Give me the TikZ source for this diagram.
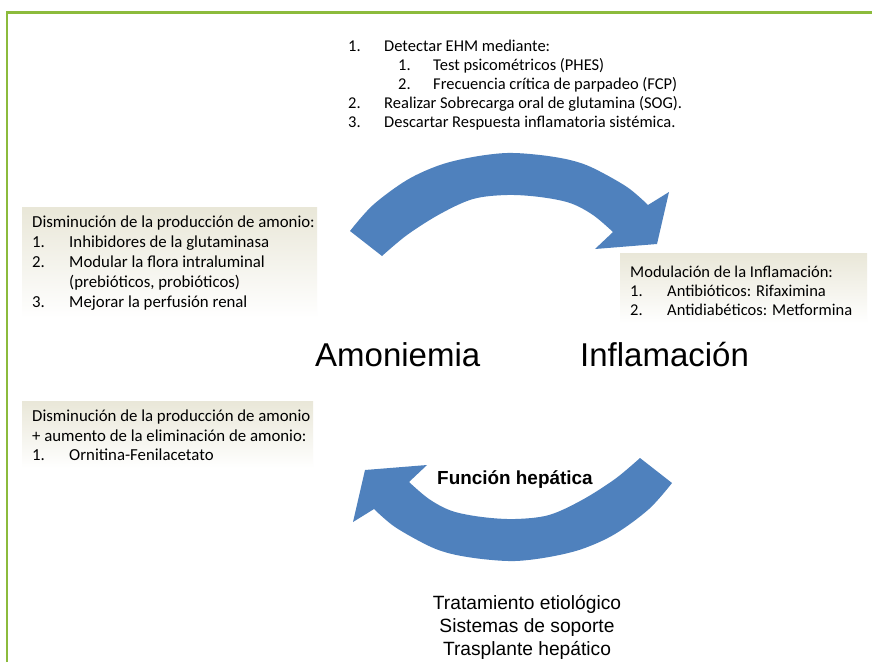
\documentclass[tikz,border=0pt]{standalone}
\usepackage{fontspec}
\setmainfont{Carlito}
\newfontfamily\arialf{Liberation Sans}
\definecolor{arrowblue}{RGB}{79,129,189}
\definecolor{framegreen}{RGB}{140,187,60}
\definecolor{boxbeige}{RGB}{233,231,216}
\begin{document}
\begin{tikzpicture}[x=1pt,y=-1pt,
  lt/.style={font=\fontsize{16.5}{19.5}\selectfont, anchor=base west, inner sep=0pt},
  lb/.style={font=\fontsize{16.8}{20}\selectfont, anchor=base west, inner sep=0pt},
  big/.style={font=\arialf\fontsize{33}{38}\selectfont, anchor=base west, inner sep=0pt},
  mid/.style={font=\arialf\fontsize{19.2}{22}\selectfont, anchor=base, inner sep=0pt},
  beige/.style={top color=boxbeige, bottom color=white, draw=none},
  cyc/.style={fill=arrowblue, draw=none}]
\useasboundingbox (0,0) rectangle (872,662);
\fill[white] (0,0) rectangle (872,662);
\draw[framegreen, line width=2.5pt] (6.8,662) -- (6.8,12.5) -- (872,12.5);

% beige boxes
\path[beige] (22,207) rectangle (317,318);
\path[beige] (620,253) rectangle (867,323);
\path[beige] (22,401) rectangle (313,468);

% circular arrows
\newcommand{\cyclearrow}{%
\path[cyc] plot[smooth, tension=0.55] coordinates {(350,231) (373,205) (407,180) (440,165) (473,157) (507,153) (540,155) (570,160) (593,168) (627,187) (648,205)}
  -- (669,192) -- (657,244) -- (595,249) --
  plot[smooth, tension=0.55] coordinates {(613,232) (593,215) (570,203) (540,197) (507,195) (473,199) (440,214) (407,235) (382,256)} -- cycle;}
\cyclearrow
\begin{scope}[rotate around={180:(511,357)}]
\cyclearrow
\end{scope}

% top list
\node[lt] (t1n) at (348,51) {1.};
\node[lt] (t1) at (384,51) {Detectar EHM mediante:};
\node[lt] (t11n) at (398,70) {1.};
\node[lt] (t11) at (433,70) {Test psicométricos (PHES)};
\node[lt] (t12n) at (398,89) {2.};
\node[lt] (t12) at (433,89) {Frecuencia crítica de parpadeo (FCP)};
\node[lt] (t2n) at (348,108) {2.};
\node[lt] (t2) at (384,108) {Realizar Sobrecarga oral de glutamina (SOG).};
\node[lt] (t3n) at (348,127) {3.};
\node[lt] (t3) at (384,127) {Descartar Respuesta inflamatoria sistémica.};

% left box 1
\node[lb] (a0) at (32,227) {Disminución de la producción de amonio:};
\node[lb] (a1n) at (32,247) {1.};
\node[lb] (a1) at (69,247) {Inhibidores de la glutaminasa};
\node[lb] (a2n) at (32,267) {2.};
\node[lb] (a2) at (69,267) {Modular la flora intraluminal};
\node[lb] (a2b) at (69,287) {(prebióticos, probióticos)};
\node[lb] (a3n) at (32,307) {3.};
\node[lb] (a3) at (69,307) {Mejorar la perfusión renal};

% right box
\node[lt] (b0) at (630,277) {Modulación de la Inflamación:};
\node[lt] (b1n) at (630,296) {1.};
\node[lt] (b1) at (667,296) {Antibióticos: Rifaximina};
\node[lt] (b2n) at (630,315) {2.};
\node[lt] (b2) at (667,315) {Antidiabéticos: Metformina};

% left box 3
\node[lb] (c0) at (32,421) {Disminución de la producción de amonio};
\node[lb] (c1) at (32,441) {+ aumento de la eliminación de amonio:};
\node[lb] (c2n) at (32,460) {1.};
\node[lb] (c2) at (69,460) {Ornitina-Fenilacetato};

% big labels
\node[big] (amo) at (315,366) {Amoniemia};
\node[big] (inf) at (580,366) {Inflamación};
\node[font=\arialf\bfseries\fontsize{18.9}{22}\selectfont, anchor=base west, inner sep=0pt] (fh) at (437,484) {Función hepática};

% bottom text
\node[mid] (d1) at (527,609) {Tratamiento etiológico};
\node[mid] (d2) at (527,632) {Sistemas de soporte};
\node[mid] (d3) at (527,655) {Trasplante hepático};
\end{tikzpicture}
\end{document}
